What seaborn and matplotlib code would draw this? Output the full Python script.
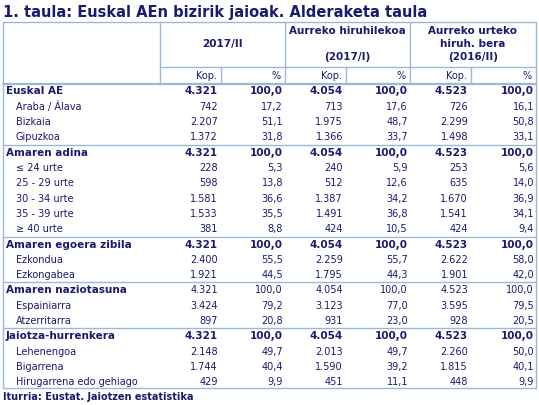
import matplotlib
matplotlib.use("Agg")
import matplotlib.pyplot as plt
import seaborn as sns

sns.set_style("white")
plt.rcParams['font.family'] = ['DejaVu Sans']

title = "1. taula: Euskal AEn bizirik jaioak. Alderaketa taula"
source = "Iturria: Eustat. Jaiotzen estatistika"
col_groups = ["2017/II", "Aurreko hiruhilekoa\n\n(2017/I)", "Aurreko urteko\nhiruh. bera\n(2016/II)"]
sub_headers = ["Kop.", "%"]
row_labels = ["Euskal AE", "Araba / Álava", "Bizkaia", "Gipuzkoa",
              "Amaren adina", "≤ 24 urte", "25 - 29 urte", "30 - 34 urte", "35 - 39 urte", "≥ 40 urte",
              "Amaren egoera zibila", "Ezkondua", "Ezkongabea",
              "Amaren naziotasuna", "Espainiarra", "Atzerritarra",
              "Jaiotza-hurrenkera", "Lehenengoa", "Bigarrena", "Hirugarrena edo gehiago"]
section_rows = [0, 4, 10, 13, 16]
bold_value_rows = [0, 4, 10, 16]
kop_2017_II = ["4.321", "742", "2.207", "1.372", "4.321", "228", "598", "1.581", "1.533", "381",
               "4.321", "2.400", "1.921", "4.321", "3.424", "897", "4.321", "2.148", "1.744", "429"]
pct_2017_II = ["100,0", "17,2", "51,1", "31,8", "100,0", "5,3", "13,8", "36,6", "35,5", "8,8",
               "100,0", "55,5", "44,5", "100,0", "79,2", "20,8", "100,0", "49,7", "40,4", "9,9"]
kop_2017_I = ["4.054", "713", "1.975", "1.366", "4.054", "240", "512", "1.387", "1.491", "424",
              "4.054", "2.259", "1.795", "4.054", "3.123", "931", "4.054", "2.013", "1.590", "451"]
pct_2017_I = ["100,0", "17,6", "48,7", "33,7", "100,0", "5,9", "12,6", "34,2", "36,8", "10,5",
              "100,0", "55,7", "44,3", "100,0", "77,0", "23,0", "100,0", "49,7", "39,2", "11,1"]
kop_2016_II = ["4.523", "726", "2.299", "1.498", "4.523", "253", "635", "1.670", "1.541", "424",
               "4.523", "2.622", "1.901", "4.523", "3.595", "928", "4.523", "2.260", "1.815", "448"]
pct_2016_II = ["100,0", "16,1", "50,8", "33,1", "100,0", "5,6", "14,0", "36,9", "34,1", "9,4",
               "100,0", "58,0", "42,0", "100,0", "79,5", "20,5", "100,0", "50,0", "40,1", "9,9"]
columns = [kop_2017_II, pct_2017_II, kop_2017_I, pct_2017_I, kop_2016_II, pct_2016_II]

TXT = "#1a1a6e"
LINE = "#9ab8d8"
fig = plt.figure(figsize=(5.39, 4.05), dpi=100)
ax = fig.add_axes([0, 0, 1, 1])
ax.set_xlim(0, 539); ax.set_ylim(405, 0); ax.axis("off")

ax.text(3, 12, title, fontsize=10.5, fontweight="bold", color=TXT, va="center")
L, R, T, B = 3, 536, 22, 388
group_x = [160, 285, 410, 536]
sub_x = [221, 346, 471]
ax.plot([L, R, R, L, L], [T, T, B, B, T], color=LINE, lw=1)
for x in group_x[:-1]:
    ax.plot([x, x], [T, 84], color=LINE, lw=1)
for x in sub_x:
    ax.plot([x, x], [67, 84], color=LINE, lw=1)
ax.plot([160, R], [67, 67], color=LINE, lw=1)
ax.plot([L, R], [84, 84], color=LINE, lw=1.6)
for i, g in enumerate(col_groups):
    ax.text((group_x[i] + group_x[i + 1]) / 2, 44, g, fontsize=7.5, fontweight="bold",
            color=TXT, ha="center", va="center", linespacing=1.35)
    ax.text(sub_x[i] - 4, 76, sub_headers[0], fontsize=7, color=TXT, ha="right", va="center")
    ax.text(group_x[i + 1] - 4, 76, sub_headers[1], fontsize=7, color=TXT, ha="right", va="center")

y0, dy = 91.5, 15.3
right_edges = [218, 283, 343, 408, 468, 534]
for r, lab in enumerate(row_labels):
    y = y0 + r * dy
    if r in section_rows and r > 0:
        ax.plot([L, R], [y - 8, y - 8], color=LINE, lw=1)
    sec = r in section_rows
    ax.text(6 if sec else 16, y, lab, fontsize=7.5 if sec else 7, color=TXT, va="center",
            fontweight="bold" if sec else "normal")
    bw = "bold" if r in bold_value_rows else "normal"
    for c, col in enumerate(columns):
        ax.text(right_edges[c], y, col[r], fontsize=7.5 if bw == "bold" else 7, color=TXT,
                ha="right", va="center", fontweight=bw)
ax.text(3, 397, source, fontsize=7, fontweight="bold", color=TXT, va="center")
fig.savefig("out.png", dpi=100)
